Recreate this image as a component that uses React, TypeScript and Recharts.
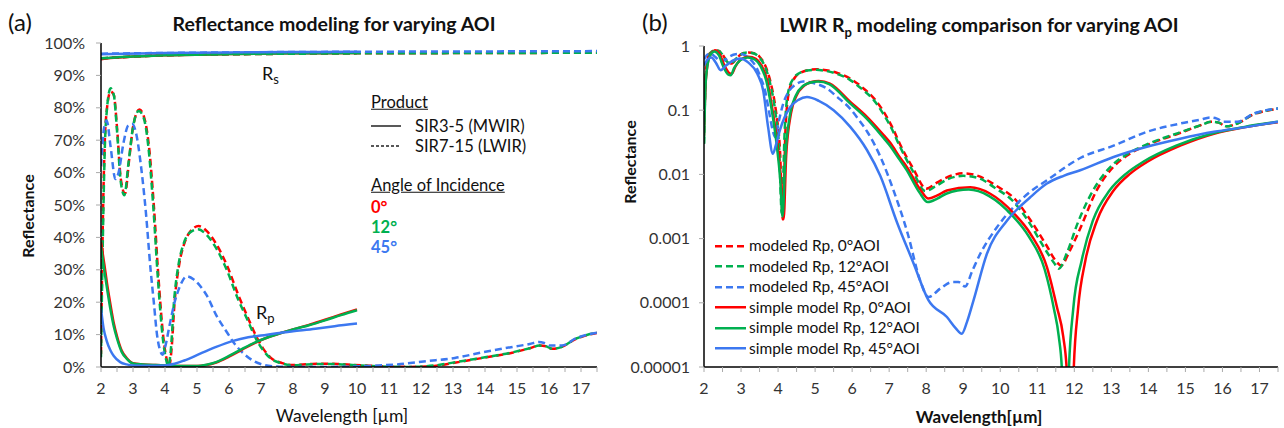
import { LineChart, Line, XAxis, YAxis } from 'recharts';

type Pt = [number, number];

const RED = '#ff0000';
const GREEN = '#00b050';
const BLUE = '#3c78f0';
const FONT = 'Lato, "Open Sans", sans-serif';

// wavelength ticks (µm), labels only on integers
const X_TICKS = [2, 2.5, 3, 3.5, 4, 4.5, 5, 5.5, 6, 6.5, 7, 7.5, 8, 8.5, 9, 9.5, 10, 10.5, 11, 11.5, 12, 12.5, 13, 13.5, 14, 14.5, 15, 15.5, 16, 16.5, 17, 17.5];
const PCT_TICKS = [0, 0.1, 0.2, 0.3, 0.4, 0.5, 0.6, 0.7, 0.8, 0.9, 1];
const LOG_TICKS = [0.00001, 0.0001, 0.001, 0.01, 0.1, 1];

// modeled Rp (SIR7-15, LWIR) -- used in both panels
const MOD_0: Pt[] = [[2.0, 0.04], [2.05, 0.4], [2.15, 0.76], [2.3, 0.85], [2.4, 0.84], [2.5, 0.74], [2.62, 0.58], [2.75, 0.535], [2.88, 0.64], [3.0, 0.74], [3.2, 0.795], [3.35, 0.77], [3.5, 0.68], [3.65, 0.5], [3.8, 0.27], [3.95, 0.09], [4.05, 0.025], [4.13, 0.002], [4.2, 0.05], [4.3, 0.2], [4.45, 0.32], [4.6, 0.38], [4.8, 0.42], [5.05, 0.435], [5.3, 0.42], [5.6, 0.38], [5.95, 0.31], [6.3, 0.22], [6.6, 0.15], [6.85, 0.095], [7.1, 0.052], [7.3, 0.029], [7.66, 0.012], [8.0, 0.006], [8.3, 0.0075], [8.6, 0.0092], [9.0, 0.0104], [9.4, 0.0095], [9.9, 0.0066], [10.4, 0.0041], [10.8, 0.002], [11.25, 0.00078], [11.5, 0.00045], [11.65, 0.00038], [11.85, 0.0006], [12.15, 0.0014], [12.6, 0.0056], [13.05, 0.013], [13.5, 0.021], [14.05, 0.03], [14.85, 0.044], [15.4, 0.058], [15.7, 0.066], [15.9, 0.064], [16.1, 0.056], [16.4, 0.062], [16.85, 0.087], [17.05, 0.094], [17.5, 0.105]];
const MOD_12: Pt[] = [[2.0, 0.03], [2.05, 0.35], [2.15, 0.75], [2.3, 0.86], [2.4, 0.84], [2.5, 0.73], [2.62, 0.57], [2.73, 0.53], [2.86, 0.63], [3.0, 0.74], [3.18, 0.79], [3.33, 0.77], [3.48, 0.68], [3.63, 0.5], [3.78, 0.27], [3.93, 0.09], [4.03, 0.025], [4.1, 0.0025], [4.18, 0.05], [4.28, 0.2], [4.43, 0.32], [4.58, 0.38], [4.78, 0.415], [5.03, 0.425], [5.28, 0.41], [5.58, 0.37], [5.93, 0.3], [6.28, 0.21], [6.58, 0.145], [6.83, 0.09], [7.08, 0.05], [7.28, 0.028], [7.63, 0.0115], [7.98, 0.0055], [8.3, 0.0068], [8.6, 0.0085], [9.0, 0.0095], [9.4, 0.0088], [9.85, 0.0062], [10.35, 0.0038], [10.75, 0.0019], [11.2, 0.0007], [11.45, 0.00042], [11.58, 0.00034], [11.8, 0.0006], [12.1, 0.0018], [12.55, 0.0062], [13.0, 0.0135], [13.45, 0.021], [14.0, 0.03], [14.8, 0.044], [15.4, 0.058], [15.7, 0.066], [15.9, 0.064], [16.1, 0.056], [16.4, 0.062], [16.85, 0.088], [17.05, 0.095], [17.5, 0.106]];
const MOD_45: Pt[] = [[2.0, 0.62], [2.1, 0.74], [2.18, 0.76], [2.3, 0.68], [2.45, 0.58], [2.55, 0.6], [2.7, 0.69], [2.85, 0.745], [2.98, 0.75], [3.1, 0.72], [3.25, 0.62], [3.4, 0.48], [3.55, 0.3], [3.65, 0.2], [3.75, 0.1], [3.85, 0.05], [3.92, 0.038], [4.0, 0.06], [4.14, 0.127], [4.3, 0.2], [4.45, 0.245], [4.68, 0.28], [4.9, 0.27], [5.1, 0.25], [5.31, 0.22], [5.6, 0.16], [5.95, 0.105], [6.15, 0.075], [6.4, 0.047], [6.76, 0.019], [7.12, 0.0056], [7.5, 0.0012], [7.84, 0.00022], [8.06, 0.000123], [8.4, 0.00017], [8.7, 0.00021], [8.87, 0.00021], [9.05, 0.00018], [9.25, 0.00032], [9.46, 0.00058], [9.91, 0.0015], [10.36, 0.0031], [10.8, 0.0053], [11.26, 0.0081], [12.16, 0.018], [13.06, 0.028], [13.96, 0.046], [14.86, 0.062], [15.4, 0.071], [15.68, 0.077], [15.85, 0.074], [16.03, 0.066], [16.4, 0.066], [16.85, 0.089], [17.5, 0.106]];

// simple model Rp (right panel, solid)
const SIM_0: Pt[] = [[2.0, 0.05], [2.05, 0.3], [2.15, 0.7], [2.3, 0.85], [2.42, 0.75], [2.55, 0.5], [2.68, 0.38], [2.75, 0.37], [2.85, 0.48], [3.0, 0.62], [3.2, 0.68], [3.4, 0.63], [3.55, 0.5], [3.7, 0.3], [3.85, 0.1], [3.98, 0.03], [4.08, 0.008], [4.15, 0.002], [4.22, 0.02], [4.35, 0.09], [4.5, 0.17], [4.7, 0.24], [4.9, 0.275], [5.1, 0.285], [5.4, 0.26], [5.95, 0.135], [6.4, 0.079], [6.85, 0.041], [7.03, 0.031], [7.3, 0.018], [7.48, 0.013], [7.84, 0.0058], [8.06, 0.0042], [8.3, 0.0047], [8.56, 0.0056], [9.19, 0.0063], [9.73, 0.005], [10.36, 0.0025], [10.81, 0.0012], [11.26, 0.00036], [11.53, 0.000086], [11.7, 0.00003], [11.8, 0.000008], [11.89, 0.000000001], [11.98, 0.000008], [12.1, 0.00008], [12.3, 0.00046], [12.61, 0.0019], [13.06, 0.0056], [13.51, 0.0103], [13.96, 0.0156], [14.86, 0.028], [15.77, 0.043], [16.67, 0.055], [17.5, 0.065]];
const SIM_12: Pt[] = [[2.0, 0.03], [2.05, 0.3], [2.15, 0.68], [2.28, 0.82], [2.4, 0.72], [2.52, 0.48], [2.65, 0.36], [2.72, 0.35], [2.82, 0.46], [2.98, 0.6], [3.18, 0.66], [3.38, 0.61], [3.53, 0.48], [3.68, 0.29], [3.83, 0.1], [3.96, 0.03], [4.06, 0.008], [4.12, 0.0022], [4.2, 0.02], [4.33, 0.09], [4.48, 0.17], [4.68, 0.24], [4.88, 0.27], [5.08, 0.28], [5.38, 0.255], [5.93, 0.13], [6.38, 0.075], [6.83, 0.038], [7.0, 0.029], [7.28, 0.017], [7.46, 0.012], [7.82, 0.0052], [8.04, 0.0037], [8.3, 0.0042], [8.54, 0.005], [9.15, 0.0058], [9.7, 0.0046], [10.32, 0.0023], [10.76, 0.0011], [11.2, 0.00033], [11.45, 0.00008], [11.58, 0.00003], [11.67, 0.000008], [11.76, 0.000000001], [11.85, 0.000008], [11.97, 0.00008], [12.2, 0.00046], [12.5, 0.0019], [12.95, 0.0056], [13.4, 0.0103], [13.85, 0.0156], [14.75, 0.028], [15.7, 0.043], [16.6, 0.055], [17.5, 0.066]];
const SIM_45: Pt[] = [[2.0, 0.5], [2.1, 0.62], [2.2, 0.66], [2.32, 0.55], [2.45, 0.42], [2.6, 0.5], [2.8, 0.6], [2.98, 0.64], [3.2, 0.55], [3.44, 0.37], [3.6, 0.2], [3.73, 0.055], [3.86, 0.021], [3.95, 0.03], [4.05, 0.049], [4.32, 0.11], [4.55, 0.145], [4.78, 0.16], [5.1, 0.14], [5.5, 0.1], [5.95, 0.055], [6.4, 0.024], [6.76, 0.0095], [7.21, 0.0018], [7.66, 0.00041], [8.06, 0.00011], [8.56, 0.00006], [8.8, 0.00004], [8.96, 0.000033], [9.1, 0.00005], [9.28, 0.00011], [9.64, 0.00058], [10.18, 0.0019], [10.81, 0.0044], [11.26, 0.0072], [11.71, 0.0095], [12.16, 0.0116], [13.06, 0.0187], [13.96, 0.027], [14.86, 0.036], [15.77, 0.046], [16.67, 0.055], [17.5, 0.066]];

// SIR3-5 (MWIR) Rp, left panel solid
const MW_0: Pt[] = [[2.0, 0.385], [2.1, 0.32], [2.2, 0.25], [2.3, 0.19], [2.4, 0.135], [2.5, 0.095], [2.65, 0.05], [2.8, 0.028], [3.0, 0.012], [3.3, 0.008], [3.7, 0.006], [4.0, 0.005], [4.5, 0.003], [5.0, 0.003], [5.3, 0.006], [5.6, 0.014], [6.0, 0.032], [6.4, 0.053], [6.8, 0.074], [7.2, 0.091], [7.6, 0.104], [8.0, 0.116], [8.5, 0.13], [9.0, 0.146], [9.5, 0.162], [10.0, 0.178]];
const MW_12: Pt[] = [[2.0, 0.37], [2.1, 0.3], [2.2, 0.235], [2.3, 0.175], [2.4, 0.125], [2.5, 0.088], [2.65, 0.046], [2.8, 0.026], [3.0, 0.011], [3.3, 0.008], [3.7, 0.006], [4.0, 0.005], [4.5, 0.003], [5.0, 0.003], [5.3, 0.007], [5.6, 0.015], [6.0, 0.034], [6.4, 0.055], [6.8, 0.075], [7.2, 0.091], [7.6, 0.104], [8.0, 0.116], [8.5, 0.129], [9.0, 0.144], [9.5, 0.16], [10.0, 0.175]];
const MW_45: Pt[] = [[2.0, 0.18], [2.08, 0.12], [2.18, 0.08], [2.3, 0.05], [2.4, 0.034], [2.6, 0.015], [2.8, 0.008], [3.0, 0.005], [3.5, 0.004], [4.0, 0.005], [4.3, 0.01], [4.6, 0.02], [5.1, 0.041], [5.6, 0.062], [6.1, 0.08], [6.6, 0.092], [7.0, 0.097], [7.5, 0.104], [8.0, 0.11], [8.7, 0.118], [9.3, 0.126], [10.0, 0.134]];

// Rs, left panel
const RS_MW_0: Pt[] = [[2, 0.95], [2.5, 0.955], [3, 0.958], [4, 0.962], [6, 0.966], [8, 0.968], [10, 0.969]];
const RS_MW_12: Pt[] = [[2, 0.951], [2.5, 0.956], [3, 0.958], [4, 0.962], [6, 0.966], [8, 0.968], [10, 0.969]];
const RS_MW_45: Pt[] = [[2, 0.965], [4, 0.969], [6, 0.971], [8, 0.972], [10, 0.973]];
const RS_LW_0: Pt[] = [[2, 0.952], [3, 0.958], [4, 0.962], [6, 0.965], [10, 0.968], [14, 0.969], [17.5, 0.97]];
const RS_LW_12: Pt[] = [[2, 0.953], [3, 0.958], [4, 0.962], [6, 0.965], [10, 0.968], [14, 0.969], [17.5, 0.97]];
const RS_LW_45: Pt[] = [[2, 0.967], [6, 0.971], [10, 0.973], [14, 0.974], [17.5, 0.975]];

const rows = (pts: Pt[]) => pts.map(([x, y]) => ({ x, y }));

const DASH = '7 4';

const LEFT_SERIES = [
  { id: 'rsmw0', pts: RS_MW_0, color: RED, dash: undefined },
  { id: 'rsmw12', pts: RS_MW_12, color: GREEN, dash: undefined },
  { id: 'rsmw45', pts: RS_MW_45, color: BLUE, dash: undefined },
  { id: 'rslw0', pts: RS_LW_0, color: RED, dash: DASH },
  { id: 'rslw12', pts: RS_LW_12, color: GREEN, dash: DASH },
  { id: 'rslw45', pts: RS_LW_45, color: BLUE, dash: DASH },
  { id: 'lw0', pts: MOD_0, color: RED, dash: DASH },
  { id: 'lw12', pts: MOD_12, color: GREEN, dash: DASH },
  { id: 'lw45', pts: MOD_45, color: BLUE, dash: DASH },
  { id: 'mw0', pts: MW_0, color: RED, dash: undefined },
  { id: 'mw12', pts: MW_12, color: GREEN, dash: undefined },
  { id: 'mw45', pts: MW_45, color: BLUE, dash: undefined },
];

const RIGHT_SERIES = [
  { id: 'm0', name: 'modeled Rp, 0°AOI', pts: MOD_0, color: RED, dash: DASH },
  { id: 'm12', name: 'modeled Rp, 12°AOI', pts: MOD_12, color: GREEN, dash: DASH },
  { id: 'm45', name: 'modeled Rp, 45°AOI', pts: MOD_45, color: BLUE, dash: DASH },
  { id: 's0', name: 'simple model Rp, 0°AOI', pts: SIM_0, color: RED, dash: undefined },
  { id: 's12', name: 'simple model Rp, 12°AOI', pts: SIM_12, color: GREEN, dash: undefined },
  { id: 's45', name: 'simple model Rp, 45°AOI', pts: SIM_45, color: BLUE, dash: undefined },
];

const tickStyle = { fontSize: 16, fill: '#333', fontFamily: FONT };
const axisLine = { stroke: '#000', strokeWidth: 1.5 };
const tickLine = { stroke: '#aaa' };
const xFmt = (v: number) => (Number.isInteger(v) ? String(v) : '');

function T({ x, y, children, style }: { x: number; y: number; children: any; style?: any }) {
  return (
    <div style={{ position: 'absolute', left: x, top: y, transform: 'translate(-50%, -50%)', whiteSpace: 'nowrap', lineHeight: 1, ...style }}>
      {children}
    </div>
  );
}

function L({ x, y, children, style }: { x: number; y: number; children: any; style?: any }) {
  return (
    <div style={{ position: 'absolute', left: x, top: y, transform: 'translateY(-50%)', whiteSpace: 'nowrap', lineHeight: 1, ...style }}>
      {children}
    </div>
  );
}

function Sample({ color, dash, w = 2.5, len = 32 }: { color: string; dash?: string; w?: number; len?: number }) {
  return (
    <svg width={len} height={6} style={{ display: 'block' }}>
      <line x1={0} y1={3} x2={len} y2={3} stroke={color} strokeWidth={w} strokeDasharray={dash} />
    </svg>
  );
}

export default function App() {
  return (
    <div style={{ position: 'absolute', left: 0, top: 0, width: 1284, height: 428, background: '#fff', fontFamily: FONT, color: '#111', overflow: 'hidden' }}>
      <div style={{ position: 'absolute', left: 0, top: 0 }}>
        <LineChart width={620} height={428} margin={{ top: 43, right: 23, bottom: 31, left: 41 }}>
          <XAxis type="number" dataKey="x" domain={[2, 17.5]} ticks={X_TICKS} tickFormatter={xFmt} interval={0}
                 allowDataOverflow height={30} axisLine={axisLine} tickLine={tickLine} tickSize={5} tickMargin={11} tick={tickStyle} />
          <YAxis type="number" dataKey="y" domain={[0, 1]} ticks={PCT_TICKS} interval={0} allowDataOverflow width={60}
                 tickFormatter={(v: number) => `${Math.round(v * 100)}%`}
                 axisLine={axisLine} tickLine={tickLine} tickSize={5} tickMargin={11} tick={tickStyle} />
          {LEFT_SERIES.map((s) => (
            <Line key={s.id} data={rows(s.pts)} dataKey="y" type="monotone" stroke={s.color} strokeWidth={2.5}
                  strokeDasharray={s.dash} dot={false} activeDot={false} isAnimationActive={false} />
          ))}
        </LineChart>
      </div>

      <div style={{ position: 'absolute', left: 620, top: 0 }}>
        <LineChart width={664} height={428} margin={{ top: 46, right: 6, bottom: 31, left: 24 }}>
          <XAxis type="number" dataKey="x" domain={[2, 17.5]} ticks={X_TICKS} tickFormatter={xFmt} interval={0}
                 allowDataOverflow height={30} axisLine={axisLine} tickLine={tickLine} tickSize={5} tickMargin={11} tick={tickStyle} />
          <YAxis type="number" dataKey="y" scale="log" domain={[0.00001, 1]} ticks={LOG_TICKS} interval={0} allowDataOverflow width={60}
                 tickFormatter={(v: number) => String(v)}
                 axisLine={axisLine} tickLine={tickLine} tickSize={5} tickMargin={9} tick={tickStyle} />
          {RIGHT_SERIES.map((s) => (
            <Line key={s.id} name={s.name} data={rows(s.pts)} dataKey="y" type="monotone" stroke={s.color} strokeWidth={2.5}
                  strokeDasharray={s.dash} dot={false} activeDot={false} isAnimationActive={false} />
          ))}
        </LineChart>
      </div>

      {/* panel (a) text */}
      <L x={8} y={22} style={{ fontSize: 24 }}>(a)</L>
      <T x={334} y={24} style={{ fontSize: 19.5, fontWeight: 700 }}>Reflectance modeling for varying AOI</T>
      <T x={28} y={216} style={{ fontSize: 16, fontWeight: 700, transform: 'translate(-50%, -50%) rotate(-90deg)' }}>Reflectance</T>
      <T x={342} y={416} style={{ fontSize: 17.5 }}>Wavelength [µm]</T>
      <L x={262} y={75} style={{ fontSize: 18 }}>R<sub style={{ fontSize: 13 }}>s</sub></L>
      <L x={256} y={314} style={{ fontSize: 18 }}>R<sub style={{ fontSize: 13 }}>p</sub></L>

      <L x={371} y={102} style={{ fontSize: 16.5, textDecoration: 'underline' }}>Product</L>
      <div style={{ position: 'absolute', left: 371, top: 123 }}><Sample color="#222" w={1.5} len={30} /></div>
      <L x={415} y={126} style={{ fontSize: 16.5 }}>SIR3-5 (MWIR)</L>
      <div style={{ position: 'absolute', left: 371, top: 143 }}><Sample color="#222" dash="3 2" w={1.3} len={30} /></div>
      <L x={415} y={146} style={{ fontSize: 16.5 }}>SIR7-15 (LWIR)</L>
      <L x={371} y={185} style={{ fontSize: 16.5, textDecoration: 'underline' }}>Angle of Incidence</L>
      <L x={371} y={207} style={{ fontSize: 16.5, fontWeight: 700, color: RED }}>0°</L>
      <L x={371} y={227} style={{ fontSize: 16.5, fontWeight: 700, color: GREEN }}>12°</L>
      <L x={371} y={247} style={{ fontSize: 16.5, fontWeight: 700, color: BLUE }}>45°</L>

      {/* panel (b) text */}
      <L x={642} y={22} style={{ fontSize: 24 }}>(b)</L>
      <T x={979} y={27} style={{ fontSize: 19.5, fontWeight: 700 }}>LWIR R<sub style={{ fontSize: 13 }}>p</sub> modeling comparison for varying AOI</T>
      <T x={630} y={162} style={{ fontSize: 16, fontWeight: 700, transform: 'translate(-50%, -50%) rotate(-90deg)' }}>Reflectance</T>
      <T x={979} y={416} style={{ fontSize: 17, fontWeight: 700 }}>Wavelength[µm]</T>

      {RIGHT_SERIES.map((s, i) => (
        <div key={s.id} style={{ position: 'absolute', left: 715, top: 246 + i * 20.5, transform: 'translateY(-50%)', display: 'flex', alignItems: 'center', gap: 3, whiteSpace: 'nowrap', fontSize: 15.5, lineHeight: 1 }}>
          <Sample color={s.color} dash={s.dash} len={31} />
          <span>{s.name}</span>
        </div>
      ))}
    </div>
  );
}
